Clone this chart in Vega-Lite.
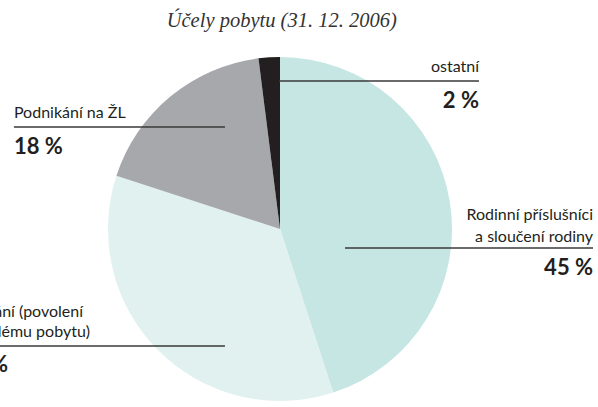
{
  "$schema": "https://vega.github.io/schema/vega-lite/v6.json",
  "width": 560,
  "height": 344,
  "autosize": {"type": "none"},
  "padding": {"left": 0, "top": 57, "right": 38, "bottom": 6},
  "background": "white",
  "config": {"view": {"stroke": null}},
  "datasets": {
    "slices": [
      {"purpose": "Rodinní příslušníci a sloučení rodiny", "share": 45, "order": 1},
      {"purpose": "Zaměstnání", "share": 35, "order": 2},
      {"purpose": "Podnikání na ŽL", "share": 18, "order": 3},
      {"purpose": "ostatní", "share": 2, "order": 4}
    ],
    "leaders": [
      {"purpose": "ostatní", "u1": -0.006, "u2": 1.157, "v": 0.860},
      {"purpose": "Podnikání na ŽL", "u1": -1.547, "u2": -0.320, "v": 0.593},
      {"purpose": "Rodinní příslušníci a sloučení rodiny", "u1": 0.378, "u2": 1.820, "v": -0.110},
      {"purpose": "Zaměstnání", "u1": -1.884, "u2": -0.320, "v": -0.680}
    ],
    "labels": [
      {"text": "Účely pobytu (31. 12. 2006)", "u": 0.01, "v": 1.174, "kind": "title"},
      {"text": "ostatní", "u": 1.157, "v": 0.913, "kind": "nameR"},
      {"text": "2 %", "u": 1.157, "v": 0.703, "kind": "pctR"},
      {"text": "Podnikání na ŽL", "u": -1.547, "v": 0.645, "kind": "nameL"},
      {"text": "18 %", "u": -1.547, "v": 0.436, "kind": "pctL"},
      {"text": "Rodinní příslušníci", "u": 1.820, "v": 0.052, "kind": "nameR"},
      {"text": "a sloučení rodiny", "u": 1.820, "v": -0.076, "kind": "nameR"},
      {"text": "45 %", "u": 1.820, "v": -0.267, "kind": "pctR"},
      {"text": "Zaměstnání (povolení", "u": -1.145, "v": -0.512, "kind": "nameR"},
      {"text": "k trvalému pobytu)", "u": -1.105, "v": -0.628, "kind": "nameR"},
      {"text": "35 %", "u": -1.581, "v": -0.831, "kind": "pctR"}
    ]
  },
  "layer": [
    {
      "data": {"name": "slices"},
      "mark": {"type": "arc"},
      "encoding": {
        "theta": {"field": "share", "type": "quantitative", "stack": true},
        "order": {"field": "order", "type": "quantitative"},
        "color": {
          "field": "purpose",
          "type": "nominal",
          "legend": null,
          "scale": {
            "domain": ["Rodinní příslušníci a sloučení rodiny", "Zaměstnání", "Podnikání na ŽL", "ostatní"],
            "range": ["#c5e6e3", "#e0f1f0", "#a7a8ab", "#231f20"]
          }
        }
      }
    },
    {
      "data": {"name": "leaders"},
      "mark": {"type": "rule", "color": "#3a3a3a", "strokeWidth": 1.5},
      "encoding": {
        "x": {"field": "u1", "type": "quantitative", "axis": null, "scale": {"domain": [-1.628, 1.628], "nice": false, "zero": false}},
        "x2": {"field": "u2"},
        "y": {"field": "v", "type": "quantitative", "axis": null, "scale": {"domain": [-1, 1], "nice": false, "zero": false}}
      }
    },
    {
      "data": {"name": "labels"},
      "transform": [{"filter": "datum.kind === 'title'"}],
      "mark": {"type": "text", "align": "center", "baseline": "alphabetic", "font": "Liberation Serif", "fontStyle": "italic", "fontSize": 20.5, "color": "#333333"},
      "encoding": {
        "x": {"field": "u", "type": "quantitative"},
        "y": {"field": "v", "type": "quantitative"},
        "text": {"field": "text"}
      }
    },
    {
      "data": {"name": "labels"},
      "transform": [{"filter": "datum.kind === 'nameR'"}],
      "mark": {"type": "text", "align": "right", "baseline": "alphabetic", "font": "Lato", "fontSize": 16, "color": "#231f20"},
      "encoding": {
        "x": {"field": "u", "type": "quantitative"},
        "y": {"field": "v", "type": "quantitative"},
        "text": {"field": "text"}
      }
    },
    {
      "data": {"name": "labels"},
      "transform": [{"filter": "datum.kind === 'nameL'"}],
      "mark": {"type": "text", "align": "left", "baseline": "alphabetic", "font": "Lato", "fontSize": 16, "color": "#231f20"},
      "encoding": {
        "x": {"field": "u", "type": "quantitative"},
        "y": {"field": "v", "type": "quantitative"},
        "text": {"field": "text"}
      }
    },
    {
      "data": {"name": "labels"},
      "transform": [{"filter": "datum.kind === 'pctR'"}],
      "mark": {"type": "text", "align": "right", "baseline": "alphabetic", "font": "Lato", "fontWeight": "bold", "fontSize": 22, "color": "#231f20"},
      "encoding": {
        "x": {"field": "u", "type": "quantitative"},
        "y": {"field": "v", "type": "quantitative"},
        "text": {"field": "text"}
      }
    },
    {
      "data": {"name": "labels"},
      "transform": [{"filter": "datum.kind === 'pctL'"}],
      "mark": {"type": "text", "align": "left", "baseline": "alphabetic", "font": "Lato", "fontWeight": "bold", "fontSize": 22, "color": "#231f20"},
      "encoding": {
        "x": {"field": "u", "type": "quantitative"},
        "y": {"field": "v", "type": "quantitative"},
        "text": {"field": "text"}
      }
    }
  ]
}
